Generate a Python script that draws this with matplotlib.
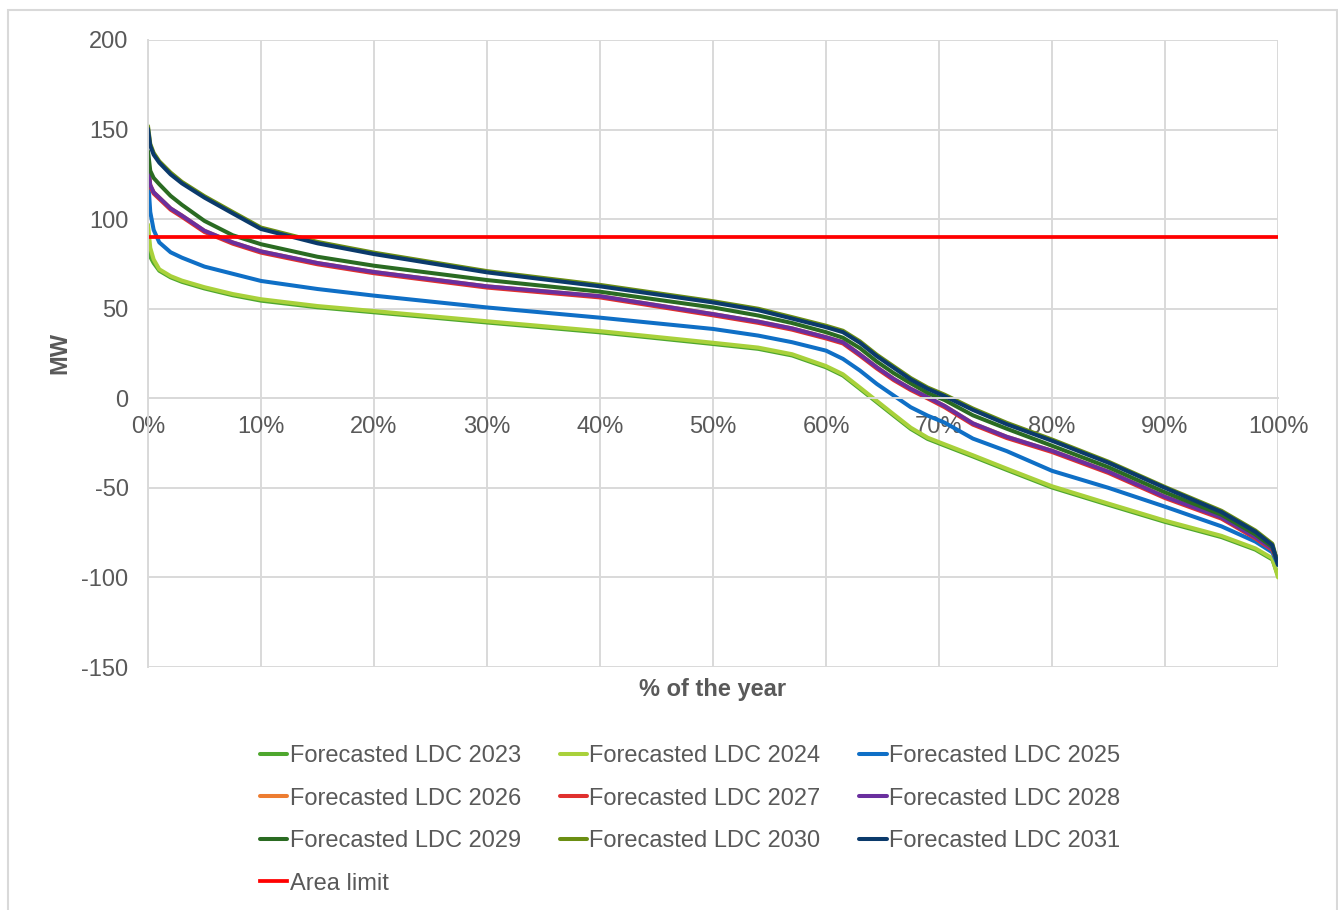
import matplotlib
matplotlib.use("Agg")
from matplotlib import pyplot as plt

plt.rcParams['font.family'] = ['Liberation Sans', 'DejaVu Sans']
plt.rcParams['axes.unicode_minus'] = False

# % of the year
pct = [0, 0.2, 0.5, 1, 2, 3, 5, 7.5, 10, 15, 20, 30, 40, 50, 54, 57, 60, 61.5, 63, 64.5,
       66, 67.5, 69, 70.5, 73, 76, 80, 85, 90, 95, 98, 99.5, 100]

# MW
ldc_2023 = [85, 79, 75.5, 71.2, 67.5, 65, 61.3, 57.5, 54.5, 50.8, 48, 42.3, 36.8, 30.3, 27.6, 23.9, 17.3, 12.7, 5.3, -2.2,
            -9.7, -17.1, -22.7, -26.4, -32.5, -40, -49.8, -59.5, -69, -77.5, -84.5, -90, -99]
ldc_2024 = [97, 84, 77.5, 72, 68.2, 65.7, 62, 58.2, 55.3, 51.5, 48.7, 43, 37.5, 31, 28.3, 24.6, 18, 13.4, 6, -1.5,
            -9, -16.4, -22, -25.7, -31.8, -39.3, -49.1, -58.8, -68.3, -76.8, -83.8, -89.3, -100]
ldc_2025 = [123, 104, 94, 87, 81.5, 78.5, 73.5, 69.5, 65.5, 61, 57.3, 50.7, 45, 38.7, 35, 31.3, 26.6, 22, 15.5, 8,
            1.5, -5, -9.7, -13.6, -22.5, -29.5, -40.5, -50, -60.5, -71.5, -80, -86, -93]
ldc_2026 = [129, 119, 115, 112, 106, 102, 93.5, 87, 82, 75.5, 70.5, 62.5, 57, 47, 42.8, 39, 34.1, 31.3, 24.5, 17.3,
            10.8, 5.3, 0.6, -4.3, -14, -21.5, -29.3, -41, -55, -66.5, -77.5, -84, -91]
ldc_2027 = [128.3, 118.3, 114.3, 111.3, 105.3, 101.3, 92.8, 86.3, 81.3, 74.8, 69.8, 61.8, 56.3, 46.3, 42.1, 38.3, 33.4, 30.6, 23.8, 16.6,
            10.1, 4.6, -0.1, -5, -14.7, -22.2, -30, -41.7, -55.7, -67.2, -78.2, -84.7, -91.5]
ldc_2028 = [129, 119, 115, 112, 106, 102, 93.5, 87, 82, 75.5, 70.5, 62.5, 57, 47, 42.8, 39, 34.1, 31.3, 24.5, 17.3,
            10.8, 5.3, 0.6, -4.3, -14, -21.5, -29.3, -41, -55, -66.5, -77.5, -84, -91]
ldc_2029 = [138, 127, 123, 119.5, 113, 108, 99, 91, 86, 79, 74, 66, 59.5, 50.7, 46.2, 42, 36.9, 33.8, 28, 20.5,
            14, 8.3, 3, -1, -9.5, -17, -26.5, -38.5, -52.5, -65, -76, -83, -92]
ldc_2030 = [152, 142, 137, 132.3, 126, 120.8, 112.8, 104, 95.3, 87.3, 81.3, 71, 63.3, 54.2, 50, 45.3, 40.5, 37.7, 31.8, 24.3,
            17.8, 11.3, 6, 2, -5.7, -13.7, -23, -35.4, -49.5, -62.8, -73.8, -81.2, -92.5]
ldc_2031 = [150.5, 141, 136, 131.5, 125, 120, 112, 103.2, 94.5, 86.5, 80.5, 70.3, 62.5, 53.5, 49.2, 44.5, 39.7, 36.9, 31, 23.5,
            17, 10.5, 5.3, 1.2, -6.5, -14.5, -23.7, -36, -50, -63.5, -74.5, -82, -93]
area_limit = 90

years = ['2023', '2024', '2025', '2026', '2027', '2028', '2029', '2030', '2031']
series = [ldc_2023, ldc_2024, ldc_2025, ldc_2026, ldc_2027, ldc_2028, ldc_2029, ldc_2030, ldc_2031]
colors = ['#4ea72e', '#a9d13b', '#0f6fc6', '#ed7d31', '#e0302e', '#6a2f9e',
          '#2a6b22', '#6b8e12', '#0b3a6b']

y_ticks = [-150, -100, -50, 0, 50, 100, 150, 200]
x_ticks = [0, 10, 20, 30, 40, 50, 60, 70, 80, 90, 100]

TXT = '#595959'
GRID = '#d9d9d9'
FS = 17

fig = plt.figure(figsize=(13.38, 9.10), dpi=100)
ax = fig.add_axes([148/1338, 1-667/910, 1130/1338, 627/910])

handles = {}
for yr, vals, c in zip(years, series, colors):
    h, = ax.plot(pct, vals, color=c, lw=2.9, solid_joinstyle='round', solid_capstyle='round',
                 label='Forecasted LDC ' + yr)
    handles[yr] = h
h, = ax.plot(pct, [area_limit] * len(pct), color='#ff0000', lw=2.7, label='Area limit')
handles['limit'] = h

ax.set_xlim(0, 100)
ax.set_ylim(-150, 200)
ax.set_yticks(y_ticks)
ax.set_xticks(x_ticks)
ax.set_xticklabels([f'{t}%' for t in x_ticks])
ax.grid(True, color=GRID, lw=1.4)
ax.set_axisbelow(True)
for s in ['top', 'right']:
    ax.spines[s].set_visible(False)
ax.spines['bottom'].set_position(('data', 0))
ax.spines['bottom'].set_color(GRID)
ax.spines['left'].set_color(GRID)
ax.spines['bottom'].set_linewidth(1.4)
ax.spines['left'].set_linewidth(1.4)
ax.tick_params(length=0, labelsize=FS, labelcolor=TXT)
ax.tick_params(axis='y', pad=14)
ax.tick_params(axis='x', pad=13)

ax.text(0.5, -0.036, '% of the year', transform=ax.transAxes, ha='center', va='center',
        fontsize=FS, fontweight='bold', color=TXT)
ax.text(-0.078, 0.5, 'MW', transform=ax.transAxes, ha='center', va='center', rotation=90,
        fontsize=FS, fontweight='bold', color=TXT)

# matplotlib fills legend columns first, so reorder to get Excel's row order
order = ['2023', '2026', '2029', 'limit', '2024', '2027', '2030', '2025', '2028', '2031']
hs = [handles[k] for k in order]
fig.legend(hs, [x.get_label() for x in hs], loc='upper left', ncol=3,
           bbox_to_anchor=(260/1338, 1-745/910), frameon=False, fontsize=FS,
           labelcolor=TXT, handlelength=1.15, handletextpad=0.1,
           columnspacing=1.65, labelspacing=0.87, borderpad=0, borderaxespad=0)

# light frame around the chart area
fig.patches.append(plt.Rectangle((8/1338, -0.1), 1329/1338, 1.1 - 10/910, transform=fig.transFigure,
                                 fill=False, edgecolor=GRID, lw=1.5))

fig.savefig('out.png', dpi=100)
